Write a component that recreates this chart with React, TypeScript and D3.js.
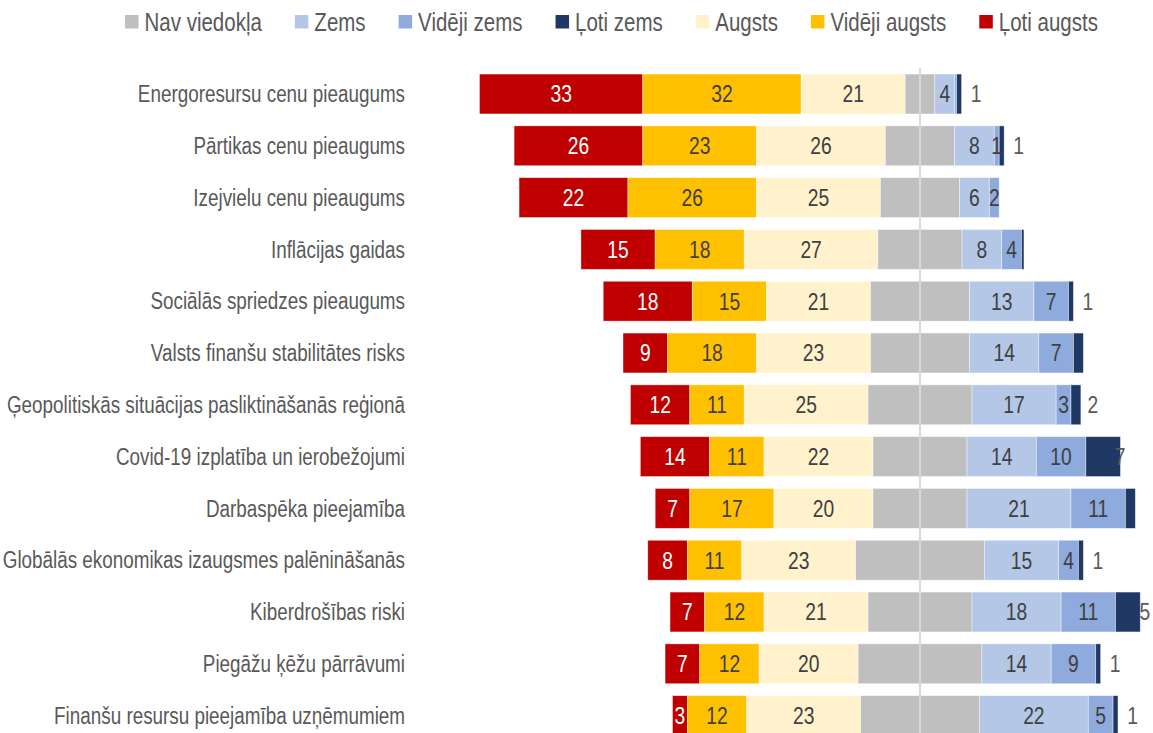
import React, { useEffect, useRef } from "react";
import * as d3 from "d3";

const categories = [
  "Energoresursu cenu pieaugums",
  "Pārtikas cenu pieaugums",
  "Izejvielu cenu pieaugums",
  "Inflācijas gaidas",
  "Sociālās spriedzes pieaugums",
  "Valsts finanšu stabilitātes risks",
  "Ģeopolitiskās situācijas pasliktināšanās reģionā",
  "Covid-19 izplatība un ierobežojumi",
  "Darbaspēka pieejamība",
  "Globālās ekonomikas izaugsmes palēnināšanās",
  "Kiberdrošības riski",
  "Piegāžu ķēžu pārrāvumi",
  "Finanšu resursu pieejamība uzņēmumiem",
];

const lotiAugsts = [33, 26, 22, 15, 18, 9, 12, 14, 7, 8, 7, 7, 3];
const videjiAugsts = [32, 23, 26, 18, 15, 18, 11, 11, 17, 11, 12, 12, 12];
const augsts = [21, 26, 25, 27, 21, 23, 25, 22, 20, 23, 21, 20, 23];
const navViedokla = [6, 14, 16, 17, 20, 20, 21, 19, 19, 26, 21, 25, 24];
const zems = [4, 8, 6, 8, 13, 14, 17, 14, 21, 15, 18, 14, 22];
const videjiZems = [0.4, 1, 2, 4, 7, 7, 3, 10, 11, 4, 11, 9, 5];
const lotiZems = [1, 1, 0, 0.5, 1, 2, 2, 7, 2, 1, 5, 1, 1];
// labels shown to the right of "Ļoti zems" (null = no label)
const lotiZemsLabel = [1, 1, null, null, 1, null, 2, 7, null, 1, 5, 1, 1];

const legendItems = [
  { name: "Nav viedokļa", color: "#BFBFBF" },
  { name: "Zems", color: "#B4C7E7" },
  { name: "Vidēji zems", color: "#8FAADC" },
  { name: "Ļoti zems", color: "#203864" },
  { name: "Augsts", color: "#FFF2CC" },
  { name: "Vidēji augsts", color: "#FFC000" },
  { name: "Ļoti augsts", color: "#C00000" },
];

const FONT = "'Liberation Sans', Arial, sans-serif";
const SX = 0.82; // horizontal condensation to mimic a narrow face

export default function App() {
  const ref = useRef<SVGSVGElement>(null);

  useEffect(() => {
    const svg = d3.select(ref.current);
    svg.selectAll("*").remove();
    const H = 733;
    const unit = 4.95;
    const cx = 920;
    const x = d3.scaleLinear().domain([-100, 50]).range([cx - 100 * unit, cx + 50 * unit]);
    const y = d3
      .scaleBand<string>()
      .domain(categories)
      .range([68.1, 68.1 + 13 * 51.8])
      .paddingInner(0.23)
      .paddingOuter(0.115);

    const place = (px: number, py: number) => `translate(${px},${py}) scale(${SX},1)`;

    type Seg = { row: number; key: string; x0: number; x1: number; value: number; color: string; text: string; showLabel: boolean };
    const segs: Seg[] = [];
    categories.forEach((c, i) => {
      let start = -(lotiAugsts[i] + videjiAugsts[i] + augsts[i] + navViedokla[i] / 2);
      const parts = [
        { key: "la", v: lotiAugsts[i], color: "#C00000", text: "#FFFFFF", show: true },
        { key: "va", v: videjiAugsts[i], color: "#FFC000", text: "#404040", show: true },
        { key: "a", v: augsts[i], color: "#FFF2CC", text: "#404040", show: true },
        { key: "nv", v: navViedokla[i], color: "#BFBFBF", text: "#404040", show: false },
        { key: "z", v: zems[i], color: "#B4C7E7", text: "#404040", show: true },
        { key: "vz", v: videjiZems[i], color: "#8FAADC", text: "#404040", show: videjiZems[i] >= 1 },
        { key: "lz", v: lotiZems[i], color: "#203864", text: "#404040", show: false },
      ];
      parts.forEach((p) => {
        if (p.v > 0) {
          segs.push({ row: i, key: p.key, x0: start, x1: start + p.v, value: p.v, color: p.color, text: p.text, showLabel: p.show });
        }
        start += p.v;
      });
    });

    const g = svg.append("g");
    g.selectAll("rect.seg")
      .data(segs)
      .join("rect")
      .attr("class", "seg")
      .attr("x", (d) => x(d.x0))
      .attr("width", (d) => x(d.x1) - x(d.x0))
      .attr("y", (d) => y(categories[d.row])!)
      .attr("height", y.bandwidth())
      .attr("fill", (d) => d.color)
      .attr("stroke", "rgba(255,255,255,0.55)")
      .attr("stroke-width", 0.75);

    // center line
    svg.append("line")
      .attr("x1", x(0)).attr("x2", x(0))
      .attr("y1", 68).attr("y2", H)
      .attr("stroke", "#D9D9D9").attr("stroke-width", 2);

    g.selectAll("text.val")
      .data(segs.filter((d) => d.showLabel))
      .join("text")
      .attr("class", "val")
      .attr("transform", (d) => place((x(d.x0) + x(d.x1)) / 2, y(categories[d.row])! + y.bandwidth() / 2))
      .attr("dy", "0.36em")
      .attr("text-anchor", "middle")
      .attr("font-family", FONT)
      .attr("font-size", 23.5)
      .attr("fill", (d) => d.text)
      .text((d) => String(Math.round(d.value)));

    // outside labels for "Ļoti zems"
    const lz = segs.filter((d) => d.key === "lz" && lotiZemsLabel[d.row] != null);
    g.selectAll("text.lz")
      .data(lz)
      .join("text")
      .attr("class", "lz")
      .attr("transform", (d) => place((x(d.x0) + x(d.x1)) / 2 + 17, y(categories[d.row])! + y.bandwidth() / 2))
      .attr("dy", "0.36em")
      .attr("text-anchor", "middle")
      .attr("font-family", FONT)
      .attr("font-size", 23.5)
      .attr("fill", "#595959")
      .text((d) => String(lotiZemsLabel[d.row]));

    // category labels
    svg.append("g")
      .selectAll("text")
      .data(categories)
      .join("text")
      .attr("transform", (d) => place(405, y(d)! + y.bandwidth() / 2))
      .attr("dy", "0.36em")
      .attr("text-anchor", "end")
      .attr("font-family", FONT)
      .attr("font-size", 23)
      .attr("fill", "#595959")
      .text((d) => d);

    // legend
    const lg = svg.append("g");
    let lx = 125;
    legendItems.forEach((it) => {
      lg.append("rect").attr("x", lx).attr("y", 15).attr("width", 13.5).attr("height", 13.5).attr("fill", it.color);
      const t = lg.append("text")
        .attr("transform", place(lx + 19.5, 22))
        .attr("dy", "0.36em")
        .attr("font-family", FONT)
        .attr("font-size", 25)
        .attr("fill", "#595959")
        .text(it.name);
      const w = (t.node() as SVGTextElement).getComputedTextLength() * SX;
      lx += 19.5 + w + 33;
    });
  }, []);

  return (
    <svg
      ref={ref}
      width={1153}
      height={733}
      style={{ position: "absolute", left: 0, top: 0, background: "#fff" }}
    />
  );
}
